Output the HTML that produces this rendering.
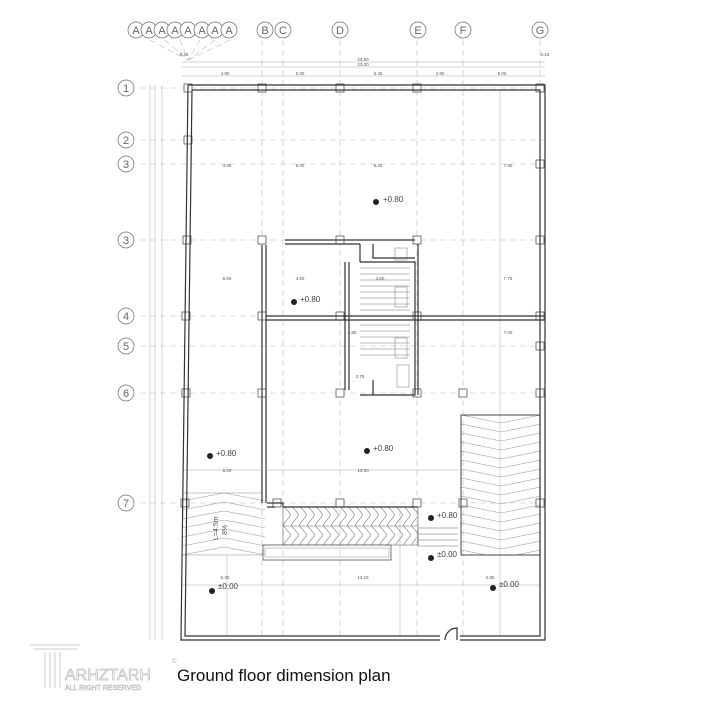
<!DOCTYPE html>
<html><head><meta charset="utf-8"><style>
html,body{margin:0;padding:0;background:#fff;}
svg{display:block;font-family:"Liberation Sans",sans-serif;}
</style></head><body>
<svg width="720" height="720" viewBox="0 0 720 720" xmlns="http://www.w3.org/2000/svg">
<defs>
<pattern id="chev" width="80" height="9" patternUnits="userSpaceOnUse" x="461" y="415">
<polyline points="0,0 40,8 80,0" fill="none" stroke="#999" stroke-width="0.6"/>
</pattern>
<pattern id="chevL" width="84" height="9" patternUnits="userSpaceOnUse" x="182" y="493">
<polyline points="0,8 42,0 84,8" fill="none" stroke="#999" stroke-width="0.6"/>
</pattern>
<pattern id="zig" width="8" height="20" patternUnits="userSpaceOnUse" x="283" y="505">
<polyline points="0,0 8,10 0,20" fill="none" stroke="#777" stroke-width="0.6"/>
</pattern>
</defs>

<g stroke="#bbb" stroke-width="0.6" stroke-dasharray="6,4" fill="none">
<line x1="262" y1="40" x2="262" y2="640"/>
<line x1="283" y1="40" x2="283" y2="640"/>
<line x1="340" y1="40" x2="340" y2="640"/>
<line x1="417" y1="40" x2="417" y2="640"/>
<line x1="463" y1="40" x2="463" y2="640"/>
<line x1="540" y1="40" x2="540" y2="640"/>
<line x1="140" y1="88" x2="545" y2="88"/>
<line x1="140" y1="140" x2="545" y2="140"/>
<line x1="140" y1="164" x2="545" y2="164"/>
<line x1="140" y1="240" x2="545" y2="240"/>
<line x1="140" y1="316" x2="545" y2="316"/>
<line x1="140" y1="346" x2="545" y2="346"/>
<line x1="140" y1="393" x2="545" y2="393"/>
<line x1="140" y1="503" x2="545" y2="503"/>
<path d="M150 40 L188 60 M165 40 L188 60 M180 40 L188 60 M200 40 L188 60 M215 40 L188 60 M230 40 L188 60"/>
</g>

<g fill="#fff" stroke="#666" stroke-width="0.7">
<circle cx="136" cy="30" r="8"/><circle cx="149" cy="30" r="8"/><circle cx="162" cy="30" r="8"/><circle cx="175" cy="30" r="8"/><circle cx="188" cy="30" r="8"/><circle cx="202" cy="30" r="8"/><circle cx="215" cy="30" r="8"/><circle cx="229" cy="30" r="8"/>
<circle cx="265" cy="30" r="8"/><circle cx="283" cy="30" r="8"/><circle cx="340" cy="30" r="8"/><circle cx="418" cy="30" r="8"/><circle cx="463" cy="30" r="8"/><circle cx="540" cy="30" r="8"/>
<circle cx="126" cy="88" r="8"/><circle cx="126" cy="140" r="8"/><circle cx="126" cy="164" r="8"/><circle cx="126" cy="240" r="8"/><circle cx="126" cy="316" r="8"/><circle cx="126" cy="346" r="8"/><circle cx="126" cy="393" r="8"/><circle cx="126" cy="503" r="8"/>
</g>
<g font-size="11" fill="#666" text-anchor="middle">
<text x="136" y="34">A</text><text x="149" y="34">A</text><text x="162" y="34">A</text><text x="175" y="34">A</text><text x="188" y="34">A</text><text x="202" y="34">A</text><text x="215" y="34">A</text><text x="229" y="34">A</text>
<text x="265" y="34">B</text><text x="283" y="34">C</text><text x="340" y="34">D</text><text x="418" y="34">E</text><text x="463" y="34">F</text><text x="540" y="34">G</text>
<text x="126" y="92">1</text><text x="126" y="144">2</text><text x="126" y="168">3</text><text x="126" y="244">3</text><text x="126" y="320">4</text><text x="126" y="350">5</text><text x="126" y="397">6</text><text x="126" y="507">7</text>
</g>

<g stroke="#aaa" stroke-width="0.5">
<line x1="182" y1="62" x2="545" y2="62"/><line x1="182" y1="67" x2="545" y2="67"/><line x1="182" y1="76" x2="545" y2="76"/>
<line x1="150" y1="85" x2="150" y2="640"/><line x1="155" y1="85" x2="155" y2="640"/><line x1="162" y1="85" x2="162" y2="640"/>
<line x1="182" y1="585" x2="540" y2="585"/>
<line x1="182" y1="470" x2="262" y2="470"/><line x1="266" y1="470" x2="460" y2="470"/>
<line x1="227" y1="555" x2="227" y2="636"/><line x1="400" y1="507" x2="400" y2="636"/><line x1="500" y1="90" x2="500" y2="636"/>
</g>
<g font-size="4.5" fill="#555" text-anchor="middle">
<text x="184" y="56">0.25</text><text x="545" y="56">0.15</text><text x="363" y="61">23.50</text><text x="363" y="66">23.00</text>
<text x="225" y="75">4.90</text><text x="300" y="75">5.00</text><text x="378" y="75">5.25</text><text x="440" y="75">2.90</text><text x="502" y="75">5.05</text>
<text x="227" y="167">4.80</text><text x="300" y="167">5.00</text><text x="378" y="167">5.25</text><text x="508" y="167">7.90</text>
<text x="227" y="280">5.00</text><text x="300" y="280">4.90</text><text x="508" y="280">7.75</text><text x="508" y="334">7.00</text>
<text x="227" y="472">5.00</text><text x="363" y="472">13.00</text><text x="225" y="579">5.30</text><text x="363" y="579">13.15</text><text x="490" y="579">4.85</text>
<text x="352" y="334">4.80</text><text x="360" y="378">2.75</text><text x="380" y="280">4.80</text>
</g>

<g fill="#fff" stroke="#555" stroke-width="0.8">
<rect x="184" y="84" width="8" height="8"/><rect x="258" y="84" width="8" height="8"/><rect x="336" y="84" width="8" height="8"/><rect x="413" y="84" width="8" height="8"/><rect x="536" y="84" width="8" height="8"/>
<rect x="184" y="136" width="8" height="8"/><rect x="536" y="160" width="8" height="8"/>
<rect x="183" y="236" width="8" height="8"/><rect x="258" y="236" width="8" height="8"/><rect x="336" y="236" width="8" height="8"/><rect x="413" y="236" width="8" height="8"/><rect x="536" y="236" width="8" height="8"/>
<rect x="182" y="312" width="8" height="8"/><rect x="258" y="312" width="8" height="8"/><rect x="336" y="312" width="8" height="8"/><rect x="413" y="312" width="8" height="8"/><rect x="536" y="312" width="8" height="8"/>
<rect x="536" y="342" width="8" height="8"/>
<rect x="182" y="389" width="8" height="8"/><rect x="258" y="389" width="8" height="8"/><rect x="336" y="389" width="8" height="8"/><rect x="413" y="389" width="8" height="8"/><rect x="459" y="389" width="8" height="8"/><rect x="536" y="389" width="8" height="8"/>
<rect x="181" y="499" width="8" height="8"/><rect x="273" y="499" width="8" height="8"/><rect x="336" y="499" width="8" height="8"/><rect x="413" y="499" width="8" height="8"/><rect x="459" y="499" width="8" height="8"/><rect x="536" y="499" width="8" height="8"/>
</g>

<rect x="461" y="415" width="79" height="140" fill="url(#chev)" stroke="#444" stroke-width="1"/>
<rect x="183" y="493" width="82" height="62" fill="url(#chevL)" stroke="none"/>
<line x1="183" y1="493" x2="262" y2="493" stroke="#888" stroke-width="0.6"/>
<line x1="183" y1="555" x2="262" y2="555" stroke="#888" stroke-width="0.6"/>
<text x="0" y="0" font-size="7" fill="#555" transform="translate(218,540) rotate(-90)">L=4.5m</text>
<text x="0" y="0" font-size="7" fill="#555" transform="translate(227,535) rotate(-90)">8%</text>
<rect x="283" y="507" width="135" height="38" fill="url(#zig)" stroke="#666" stroke-width="0.6"/>
<line x1="283" y1="526" x2="418" y2="526" stroke="#666" stroke-width="0.6"/>
<rect x="263" y="545" width="128" height="15" fill="none" stroke="#555" stroke-width="0.8"/>
<rect x="265" y="548" width="124" height="9" fill="none" stroke="#888" stroke-width="0.5"/>
<g stroke="#666" stroke-width="0.6"><line x1="418" y1="528" x2="458" y2="528"/><line x1="418" y1="534" x2="458" y2="534"/><line x1="418" y1="540" x2="458" y2="540"/><line x1="418" y1="546" x2="458" y2="546"/><line x1="418" y1="528" x2="418" y2="546"/></g>

<g fill="none" stroke="#333" stroke-width="1.2">
<path d="M188 85 L545 85 L545 640 L460 640 M440 640 L181 640 L188 85"/>
<path d="M192 90 L540 90 L540 636 L460 636 M440 636 L185 636 L192 90"/>
<path d="M262 245 L262 503 M266 245 L266 503"/>
<path d="M285 240 L415 240 M285 244 L360 244"/>
<path d="M266 316 L545 316 M266 320 L545 320"/>
<path d="M345 262 L345 390 M349 262 L349 390"/>
<path d="M360 262 L415 262 L415 395 L360 395 M360 244 L360 262"/>
<path d="M373 244 L373 258 L415 258 M373 380 L373 395"/>
<path d="M418 244 L418 395"/>
<path d="M267 503 L283 503 L283 507 L418 507 M267 507 L275 507"/>
<path d="M445 640 A12 12 0 0 1 457 628 L457 640"/>
</g>
<g stroke="#777" stroke-width="0.5" fill="none">
<path d="M360 268 L410 268 M360 274 L410 274 M360 280 L410 280 M360 286 L410 286 M360 292 L410 292 M360 298 L410 298 M360 304 L410 304 M360 310 L410 310"/>
<path d="M360 325 L410 325 M360 331 L410 331 M360 337 L410 337 M360 343 L410 343 M360 349 L410 349 M360 355 L410 355"/>
<rect x="395" y="287" width="12" height="20"/><rect x="395" y="338" width="12" height="20"/>
<rect x="397" y="365" width="12" height="22"/><rect x="395" y="248" width="12" height="12"/>
</g>

<g font-size="8" fill="#444">
<circle cx="376" cy="202" r="3" fill="#222"/><text x="383" y="202">+0.80</text>
<circle cx="294" cy="302" r="3" fill="#222"/><text x="300" y="302">+0.80</text>
<circle cx="210" cy="456" r="3" fill="#222"/><text x="216" y="456">+0.80</text>
<circle cx="367" cy="451" r="3" fill="#222"/><text x="373" y="451">+0.80</text>
<circle cx="431" cy="518" r="3" fill="#222"/><text x="437" y="518">+0.80</text>
<circle cx="431" cy="558" r="3" fill="#222"/><text x="437" y="557">±0.00</text>
<circle cx="212" cy="591" r="3" fill="#222"/><text x="218" y="589">±0.00</text>
<circle cx="493" cy="588" r="3" fill="#222"/><text x="499" y="587">±0.00</text>
</g>

<g fill="none" stroke="#ccc" stroke-width="1">
<path d="M30 645 L80 645 M33 649 L77 649 M45 652 L45 688 M50 652 L50 688 M55 652 L55 688 M60 652 L60 688"/>
</g>
<text x="65" y="680" font-size="16" fill="#fff" stroke="#bbb" stroke-width="0.7">ARHZTARH</text>
<text x="65" y="690" font-size="7" fill="#fff" stroke="#bbb" stroke-width="0.5">ALL RIGHT RESERVED</text>
<text x="172" y="663" font-size="6" fill="#aaa">©</text>
<text x="177" y="681" font-size="17" fill="#111">Ground floor dimension plan</text>
</svg>
</body></html>
